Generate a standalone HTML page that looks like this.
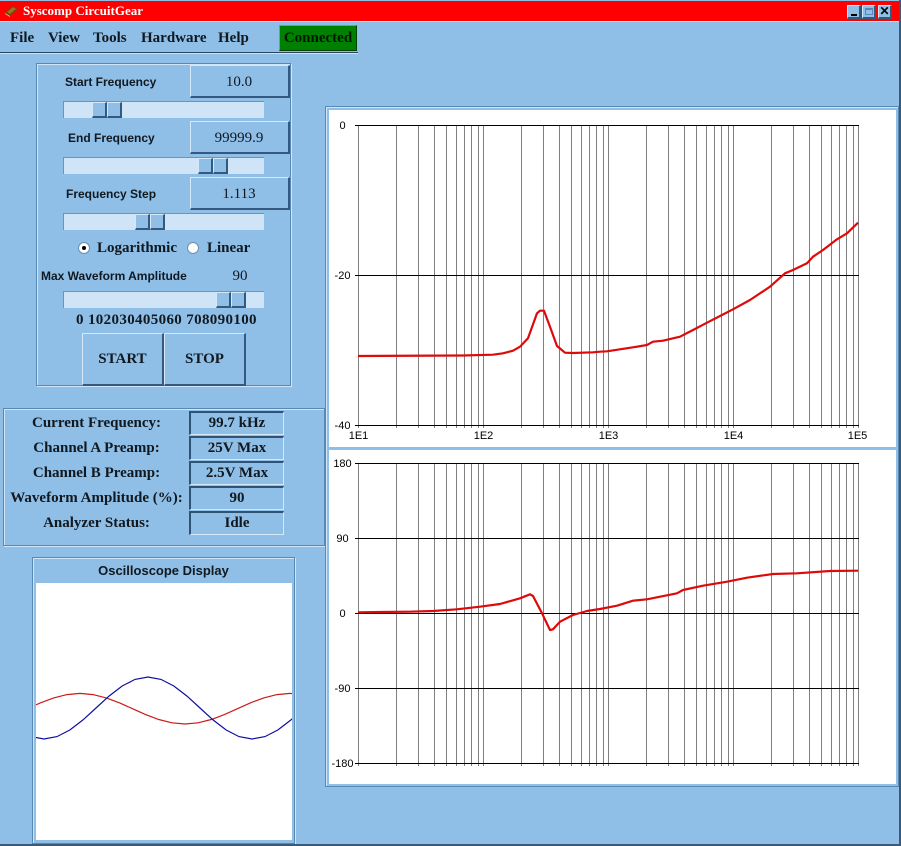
<!DOCTYPE html>
<html><head><meta charset="utf-8">
<style>
*{box-sizing:border-box;margin:0;padding:0}
body{width:901px;height:846px;background:#8fbfe7;position:relative;overflow:hidden;font-family:"Liberation Serif",serif;}
.a{position:absolute}
.serif{font-family:"Liberation Serif",serif;font-weight:bold;font-size:15px;color:#101820;white-space:nowrap}
.val{font-family:"Liberation Serif",serif;font-weight:normal;font-size:15px;color:#101820;text-align:center;white-space:nowrap}
.sans{font-family:"Liberation Sans",sans-serif;font-weight:bold;font-size:12px;color:#101820;white-space:nowrap}
.raised{background:#8fbfe7;border-top:1px solid #d4e8f8;border-left:1px solid #d4e8f8;border-right:2px solid #34597e;border-bottom:2px solid #34597e}
.sunken{background:#8fbfe7;border-top:2px solid #2f5277;border-left:2px solid #2f5277;border-right:1px solid #d4e8f8;border-bottom:1px solid #d4e8f8}
.trough{background:#cfe5f7;border-top:1px solid #6a94bc;border-left:1px solid #6a94bc}
.thumb{background:#8fbfe7;border-top:1px solid #d4e8f8;border-left:1px solid #d4e8f8;border-right:2px solid #34597e;border-bottom:2px solid #34597e}
.grp{border:1px solid #5a88b4;box-shadow:inset 1px 1px 0 #d0e6f8, 1px 1px 0 #d0e6f8}
.c{text-align:center}
</style></head><body>

<!-- title bar -->
<div class="a" style="left:0;top:1px;width:901px;height:20px;background:#ff0000"></div>
<svg class="a" style="left:4px;top:4px" width="15" height="14" viewBox="0 0 15 14">
<polygon points="1,9 9,2 14,5 6,12" fill="#6b4a10"/>
<polygon points="1,9 6,12 6,13 1,10" fill="#e8c040"/>
<polygon points="3,8 9,3 12,5 6,10" fill="#a07020"/>
</svg>
<div class="a serif" style="left:23px;top:2px;height:18px;line-height:18px;font-size:13px;color:#fff">Syscomp CircuitGear</div>
<div class="a raised" style="left:847px;top:5px;width:14px;height:14px"></div>
<div class="a" style="left:851px;top:14px;width:6px;height:2px;background:#000"></div>
<div class="a raised" style="left:862px;top:5px;width:14px;height:14px"></div>
<div class="a" style="left:865px;top:8px;width:8px;height:7px;border:1px solid #5a88b4;border-top-width:2px"></div>
<div class="a raised" style="left:878px;top:5px;width:14px;height:14px;font-family:'Liberation Sans',sans-serif;font-weight:bold;font-size:12px;line-height:11px;text-align:center;color:#000">✕</div>
<div class="a" style="left:899px;top:0;width:2px;height:846px;background:#3a5a7a"></div>
<div class="a" style="left:0;top:21px;width:899px;height:1px;background:#cfe4f6"></div>

<!-- menu -->
<div class="a serif" style="left:10px;top:28px;line-height:20px">File</div>
<div class="a serif" style="left:48px;top:28px;line-height:20px">View</div>
<div class="a serif" style="left:93px;top:28px;line-height:20px">Tools</div>
<div class="a serif" style="left:141px;top:28px;line-height:20px">Hardware</div>
<div class="a serif" style="left:218px;top:28px;line-height:20px">Help</div>
<div class="a" style="left:279px;top:25px;width:78px;height:26px;background:#008000;border-top:1px solid #60b060;border-left:1px solid #60b060;border-right:1px solid #004000;border-bottom:1px solid #004000"></div>
<div class="a serif c" style="left:279px;top:28px;width:78px;line-height:20px;color:#001800">Connected</div>
<div class="a" style="left:0;top:52px;width:358px;height:1px;background:#2a4460"></div>
<div class="a" style="left:0;top:53px;width:358px;height:1px;background:#cfe4f6"></div>

<!-- control panel -->
<div class="a grp" style="left:36px;top:63px;width:255px;height:323px"></div>

<div class="a sans" style="left:65px;top:74px;line-height:16px">Start Frequency</div>
<div class="a raised" style="left:190px;top:65px;width:100px;height:33px"></div>
<div class="a val" style="left:190px;top:72px;width:98px;line-height:20px">10.0</div>
<div class="a trough" style="left:63px;top:101px;width:201px;height:17px"></div>
<div class="a thumb" style="left:92px;top:102px;width:15px;height:16px"></div>
<div class="a thumb" style="left:107px;top:102px;width:15px;height:16px"></div>

<div class="a sans" style="left:68px;top:130px;line-height:16px">End Frequency</div>
<div class="a raised" style="left:190px;top:121px;width:100px;height:33px"></div>
<div class="a val" style="left:190px;top:128px;width:98px;line-height:20px">99999.9</div>
<div class="a trough" style="left:63px;top:157px;width:201px;height:17px"></div>
<div class="a thumb" style="left:198px;top:158px;width:15px;height:16px"></div>
<div class="a thumb" style="left:213px;top:158px;width:15px;height:16px"></div>

<div class="a sans" style="left:66px;top:186px;line-height:16px">Frequency Step</div>
<div class="a raised" style="left:190px;top:177px;width:100px;height:33px"></div>
<div class="a val" style="left:190px;top:184px;width:98px;line-height:20px">1.113</div>
<div class="a trough" style="left:63px;top:213px;width:201px;height:17px"></div>
<div class="a thumb" style="left:135px;top:214px;width:15px;height:16px"></div>
<div class="a thumb" style="left:150px;top:214px;width:15px;height:16px"></div>

<div class="a" style="left:78px;top:242px;width:12px;height:12px;border-radius:50%;background:#fff;border:1px solid #6a8fb0"></div>
<div class="a" style="left:82px;top:246px;width:4px;height:4px;border-radius:50%;background:#000"></div>
<div class="a serif" style="left:97px;top:238px;line-height:20px">Logarithmic</div>
<div class="a" style="left:187px;top:242px;width:12px;height:12px;border-radius:50%;background:#fff;border:1px solid #6a8fb0"></div>
<div class="a serif" style="left:207px;top:238px;line-height:20px">Linear</div>

<div class="a sans" style="left:41px;top:268px;line-height:16px">Max Waveform Amplitude</div>
<div class="a val" style="left:228px;top:266px;width:24px;line-height:20px">90</div>
<div class="a trough" style="left:63px;top:291px;width:201px;height:17px"></div>
<div class="a thumb" style="left:216px;top:292px;width:15px;height:16px"></div>
<div class="a thumb" style="left:231px;top:292px;width:15px;height:16px"></div>
<div class="a serif" style="left:76px;top:310px;line-height:20px;letter-spacing:0.35px">0 102030405060 708090100</div>

<div class="a raised" style="left:82px;top:333px;width:82px;height:53px"></div>
<div class="a serif c" style="left:82px;top:349px;width:81px;line-height:20px">START</div>
<div class="a raised" style="left:164px;top:333px;width:82px;height:53px"></div>
<div class="a serif c" style="left:164px;top:349px;width:81px;line-height:20px">STOP</div>

<!-- status panel -->
<div class="a grp" style="left:3px;top:408px;width:322px;height:138px"></div>
<div class="a serif c" style="left:0;top:413px;width:193px;line-height:20px">Current Frequency:</div>
<div class="a serif c" style="left:0;top:438px;width:193px;line-height:20px">Channel A Preamp:</div>
<div class="a serif c" style="left:0;top:463px;width:193px;line-height:20px">Channel B Preamp:</div>
<div class="a serif c" style="left:0;top:488px;width:193px;line-height:20px">Waveform Amplitude (%):</div>
<div class="a serif c" style="left:0;top:513px;width:193px;line-height:20px">Analyzer Status:</div>
<div class="a sunken" style="left:189px;top:411px;width:95px;height:24px"></div>
<div class="a sunken" style="left:189px;top:436px;width:95px;height:24px"></div>
<div class="a sunken" style="left:189px;top:461px;width:95px;height:24px"></div>
<div class="a sunken" style="left:189px;top:486px;width:95px;height:24px"></div>
<div class="a sunken" style="left:189px;top:511px;width:95px;height:24px"></div>
<div class="a serif c" style="left:190px;top:413px;width:94px;line-height:20px">99.7 kHz</div>
<div class="a serif c" style="left:190px;top:438px;width:94px;line-height:20px">25V Max</div>
<div class="a serif c" style="left:190px;top:463px;width:94px;line-height:20px">2.5V Max</div>
<div class="a serif c" style="left:190px;top:488px;width:94px;line-height:20px">90</div>
<div class="a serif c" style="left:190px;top:513px;width:94px;line-height:20px">Idle</div>

<!-- oscilloscope -->
<div class="a grp" style="left:32px;top:557px;width:263px;height:287px"></div>
<div class="a sans c" style="left:32px;top:562px;width:263px;line-height:18px;font-size:13px">Oscilloscope Display</div>
<svg class="a" style="left:36px;top:583px" width="256" height="257" viewBox="36 583 256 257">
<rect x="36" y="583" width="256" height="257" fill="#fff"/>
<polyline fill="none" stroke="#cc1a1a" stroke-width="1.2" points="27.5,708.7 40.6,702.8 53.75,697.9 66.9,694.6 80,693.4 93.1,694.6 106.25,697.9 119.4,702.8 132.5,708.7 145.6,714.6 158.75,719.5 171.9,722.8 185,724 198.1,722.8 211.25,719.5 224.4,714.6 237.5,708.7 250.6,702.8 263.75,697.9 276.9,694.6 290,693.4 303.1,694.6"/>
<polyline fill="none" stroke="#1010a0" stroke-width="1.2" points="31,736.6 44,739 57,736.6 70,729.9 83,719.9 96,708 109,696.1 122,686.1 135,679.4 148,677 161,679.4 174,686.1 187,696.1 200,708 213,719.9 226,729.9 239,736.6 252,739 265,736.6 278,729.9 291,719.9 304,708"/>
</svg>
<div class="a" style="left:0;top:844px;width:901px;height:2px;background:#3a5a7a"></div>

<!-- chart frame -->
<div class="a" style="left:325px;top:106px;width:574px;height:681px;border:1px solid #5a88b4;box-shadow:inset 1px 1px 0 #d0e6f8"></div>
<svg class="a" style="left:0;top:0" width="901" height="846" viewBox="0 0 901 846">
<rect x="329" y="110" width="567" height="337" fill="#fff"/>
<rect x="329" y="450" width="567" height="334" fill="#fff"/>
<g stroke="#808080" stroke-width="1" fill="none">
<path d="M358.5 125V428M396.5 125V428M418.5 125V428M434.5 125V428M446.5 125V428M456.5 125V428M464.5 125V428M471.5 125V428M478.5 125V428M483.5 125V428M521.5 125V428M543.5 125V428M559.5 125V428M571.5 125V428M581.5 125V428M589.5 125V428M596.5 125V428M603.5 125V428M608.5 125V428M646.5 125V428M668.5 125V428M684.5 125V428M696.5 125V428M706.5 125V428M714.5 125V428M721.5 125V428M728.5 125V428M733.5 125V428M771.5 125V428M793.5 125V428M809.5 125V428M821.5 125V428M831.5 125V428M839.5 125V428M846.5 125V428M853.5 125V428M858.5 125V428"/>
<path d="M358.5 463V766M396.5 463V766M418.5 463V766M434.5 463V766M446.5 463V766M456.5 463V766M464.5 463V766M471.5 463V766M478.5 463V766M483.5 463V766M521.5 463V766M543.5 463V766M559.5 463V766M571.5 463V766M581.5 463V766M589.5 463V766M596.5 463V766M603.5 463V766M608.5 463V766M646.5 463V766M668.5 463V766M684.5 463V766M696.5 463V766M706.5 463V766M714.5 463V766M721.5 463V766M728.5 463V766M733.5 463V766M771.5 463V766M793.5 463V766M809.5 463V766M821.5 463V766M831.5 463V766M839.5 463V766M846.5 463V766M853.5 463V766M858.5 463V766"/>
</g>
<g stroke="#000" stroke-width="1" fill="none">
<path d="M355 125.5H859M355 275.5H859M355 425.5H859"/>
<path d="M355 463.5H859M355 538.5H859M355 613.5H859M355 688.5H859M355 763.5H859"/>
</g>
<g font-family="Liberation Sans, sans-serif" font-size="11" fill="#000" text-anchor="middle">
<text x="342.5" y="129">0</text>
<text x="342.5" y="279">-20</text>
<text x="342.5" y="429">-40</text>
<text x="358.5" y="439">1E1</text>
<text x="483.5" y="439">1E2</text>
<text x="608.5" y="439">1E3</text>
<text x="733.5" y="439">1E4</text>
<text x="857.5" y="439">1E5</text>
<text x="342.5" y="467">180</text>
<text x="342.5" y="542">90</text>
<text x="342.5" y="617">0</text>
<text x="342.5" y="692">-90</text>
<text x="342.5" y="767">-180</text>
</g>
<polyline fill="none" stroke="#dd0a0a" stroke-width="2.2" stroke-linejoin="round" points="358,356 463,355.5 493,354.7 503,353.3 513,350.7 520,346.7 528,338.3 537,313.3 540,310.7 544,310.7 550,326.7 557,346 565,352.7 573,353 593,352.3 600,351.7 607,351.3 620,349.3 633,347.3 647,345 653,341.7 663,340.7 680,336.7 693,330 707,322.7 720,316 733,309.3 750,300 770,286.7 785,273.3 793,270 807,263.3 813,256.7 823,250 837,239.3 847,233.3 858,222.7"/>
<polyline fill="none" stroke="#dd0a0a" stroke-width="2.2" stroke-linejoin="round" points="358,612.3 410,611.7 433,611 457,609.3 480,606.7 500,604 520,598.3 530,594.3 533,596 542,613.3 550,630 553,629.3 560,621.7 573,615 587,611 600,609 617,605.7 633,600.7 647,599.3 677,593.3 683,590 703,585.7 727,581.7 747,577.7 773,574 797,573.3 830,571 858,570.7"/>
</svg>
</body></html>
